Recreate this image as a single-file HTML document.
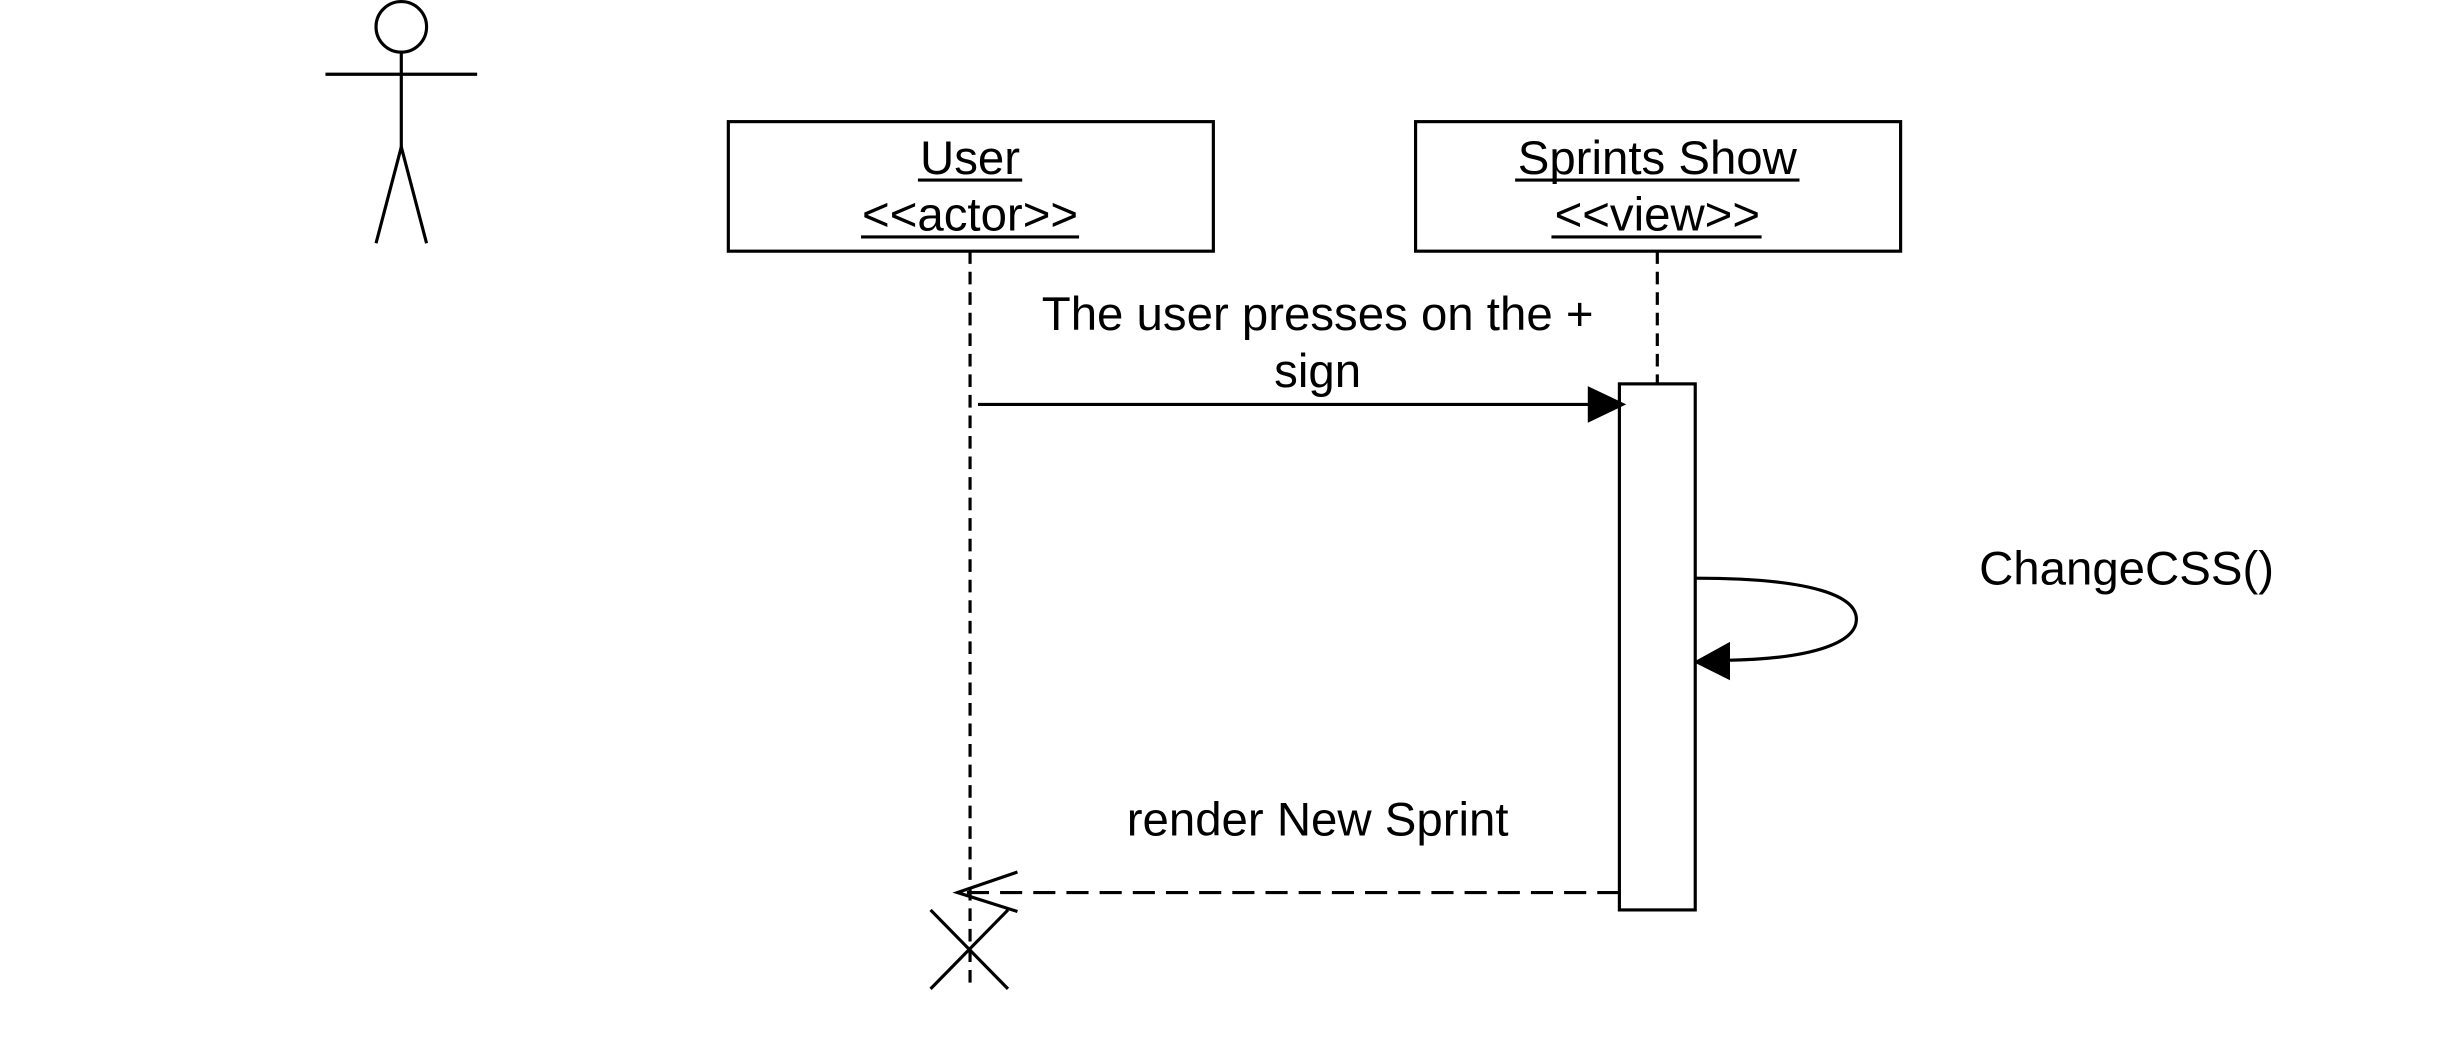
<!DOCTYPE html>
<html><head><style>html,body{margin:0;padding:0;background:#fff}svg{display:block}</style></head>
<body>
<svg width="2452" height="1060" viewBox="0 0 1552 671" preserveAspectRatio="none" xmlns="http://www.w3.org/2000/svg" font-family="Liberation Sans, Arial, sans-serif" fill="none" stroke="#000" stroke-width="2">
<circle cx="254" cy="17" r="16" fill="#fff"/>
<line x1="206" y1="47" x2="302" y2="47"/>
<line x1="254" y1="33" x2="254" y2="93"/>
<polyline points="238,154 254,93 270,154"/>
<rect x="461" y="77" width="307" height="82" fill="#fff"/>
<rect x="896" y="77" width="307" height="82" fill="#fff"/>
<line x1="614" y1="159" x2="614" y2="627" stroke-dasharray="8,5"/>
<line x1="1049" y1="159" x2="1049" y2="243" stroke-dasharray="8,5"/>
<rect x="1025" y="243" width="48" height="333" fill="#fff"/>
<line x1="619" y1="256" x2="1008" y2="256"/>
<polygon points="1006,246 1027,256 1006,266" fill="#000"/>
<path d="M1073,366 C1150,366 1175,378 1175,392 C1175,406 1150,417 1093,418"/>
<polygon points="1094,408 1074,419 1094,429" fill="#000"/>
<line x1="1025" y1="565" x2="610" y2="565" stroke-dasharray="14,7"/>
<polyline points="644,552 606,565 644,577"/>
<line x1="589" y1="576" x2="638" y2="626"/>
<line x1="638" y1="576" x2="589" y2="626"/>
<g fill="#000" stroke="none" font-size="30" text-anchor="middle">
<text x="614" y="110">User</text>
<text x="614" y="146">&lt;&lt;actor&gt;&gt;</text>
<text x="1049" y="110">Sprints Show</text>
<text x="1049" y="146">&lt;&lt;view&gt;&gt;</text>
<text x="834" y="209">The user presses on the +</text>
<text x="834" y="245">sign</text>
<text x="1346" y="370">ChangeCSS()</text>
<text x="834" y="529">render New Sprint</text>
</g>
<g stroke-width="2">
<line x1="581" y1="114" x2="647" y2="114"/>
<line x1="545" y1="150" x2="683" y2="150"/>
<line x1="959" y1="114" x2="1139" y2="114"/>
<line x1="982" y1="150" x2="1115" y2="150"/>
</g>
</svg>
</body></html>
